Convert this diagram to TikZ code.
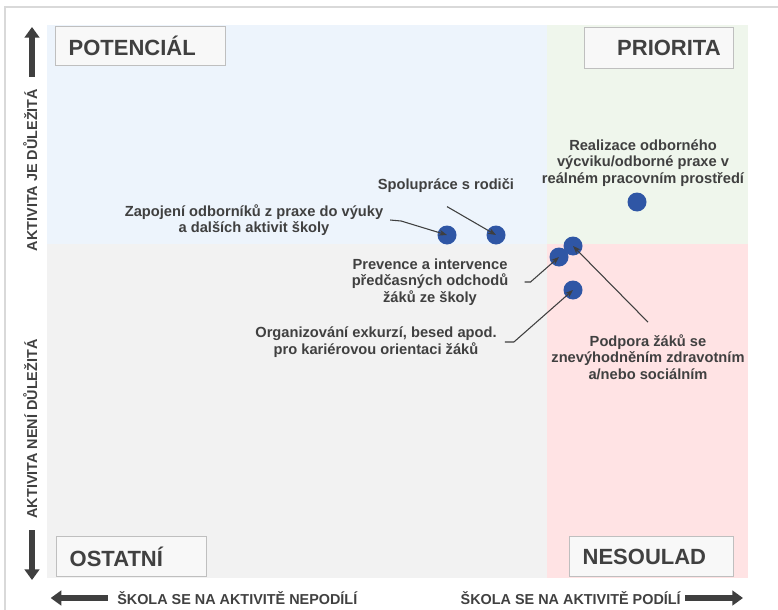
\documentclass[tikz,border=0pt]{standalone}
\usepackage{fontspec}
\setmainfont{Liberation Sans}
\usepackage{tikz}
\usetikzlibrary{arrows, arrows.meta, positioning}

\definecolor{txt}{HTML}{404040}
\definecolor{arrowgray}{HTML}{3F3F3F}
\definecolor{dotblue}{HTML}{2F56A5}
\definecolor{qblue}{HTML}{EDF4FC}
\definecolor{qgreen}{HTML}{EFF6EC}
\definecolor{qgray}{HTML}{F2F2F2}
\definecolor{qpink}{HTML}{FFE3E4}
\definecolor{boxline}{HTML}{BFBFBF}
\definecolor{boxfill}{HTML}{F8F8F8}
\definecolor{framegray}{HTML}{D9D9D9}

\tikzstyle{quadbox} = [rectangle, draw=boxline, fill=boxfill, line width=1pt, inner xsep=9.75pt, inner ysep=0pt, text=txt, font=\fontsize{16.5}{18}\selectfont\bfseries]
\tikzstyle{itemtext} = [align=center, inner sep=1pt, text=txt, font=\fontsize{11}{12.4}\selectfont\bfseries]
\tikzstyle{axistext} = [inner sep=0pt, text=txt, font=\fontsize{10.8}{12}\selectfont\bfseries]
\tikzstyle{bubble} = [circle, fill=dotblue, minimum size=14.25pt, inner sep=0pt]
\tikzstyle{pointer} = [draw=arrowgray, line width=0.8pt, ->, >={Stealth[length=6pt, width=4.5pt]}]
\tikzstyle{bigarrow} = [draw=arrowgray, line width=5pt, -{Triangle[width=11pt, length=8pt]}]

\begin{document}
\begin{tikzpicture}[x=0.75pt, y=-0.75pt]
\useasboundingbox (0,0) rectangle (778,610);
\clip (0,0) rectangle (778,610);
\draw [framegray, line width=1.2pt] (5,620) -- (5,7) -- (790,7);

% quadrants
\fill [qblue] (47,25) rectangle (547,244);
\fill [qgreen] (547,25) rectangle (748,244);
\fill [qgray] (47,244) rectangle (547,578);
\fill [qpink] (547,244) rectangle (748,578);

\node (pot) [quadbox, anchor=north west, text width=108pt, minimum height=29.25pt, align=left] at (55,26) {POTENCIÁL};
\node (pri) [quadbox, anchor=north west, text width=92.25pt, minimum height=30.75pt, align=right] at (584,27) {PRIORITA};
\node (ost) [quadbox, anchor=north west, text width=93pt, minimum height=30pt, align=left] at (56,536) {OSTATNÍ};
\node (nes) [quadbox, anchor=north west, text width=103.5pt, minimum height=30pt, align=left] at (569,536) {NESOULAD};

% axes
\node (yUp) [axistext, rotate=90, anchor=base] at (37,170) {AKTIVITA JE DŮLEŽITÁ};
\node (yDown) [axistext, rotate=90, anchor=base] at (37,429) {AKTIVITA NENÍ DŮLEŽITÁ};
\node (xNo) [axistext, anchor=west] at (117,598) {ŠKOLA SE NA AKTIVITĚ NEPODÍLÍ};
\node (xYes) [axistext, anchor=east] at (681,598) {ŠKOLA SE NA AKTIVITĚ PODÍLÍ};
\coordinate (upTail) at (32,77);
\coordinate (upTip) at (32,27);
\coordinate (downTail) at (32,530);
\coordinate (downTip) at (32,580);
\draw [bigarrow] (upTail) -- (upTip);
\draw [bigarrow] (downTail) -- (downTip);
\draw [bigarrow] ([xshift=-7pt]xNo.west) -- ++(-57,0);
\draw [bigarrow] ([xshift=3pt]xYes.east) -- ++(58,0);

% activities
\node (dReal) [bubble] at (637,202) {};
\node (dZap) [bubble] at (447,235) {};
\node (dSpol) [bubble] at (496,235) {};
\node (dPrev) [bubble] at (559,257) {};
\node (dPodp) [bubble] at (573,246) {};
\node (dOrg) [bubble] at (573,290) {};

\node (lReal) [itemtext] at (643,163) {Realizace odborného\\výcviku/odborné praxe v\\reálném pracovním prostředí};
\node (lSpol) [itemtext] at (446,186) {Spolupráce s rodiči};
\node (lZap) [itemtext] at (254,220) {Zapojení odborníků z praxe do výuky\\a dalších aktivit školy};
\node (lPrev) [itemtext] at (430,282) {Prevence a intervence\\předčasných odchodů\\žáků ze školy};
\node (lOrg) [itemtext] at (376,342) {Organizování exkurzí, besed apod.\\pro kariérovou orientaci žáků};
\node (lPodp) [itemtext] at (648,357) {Podpora žáků se\\znevýhodněním zdravotním\\a/nebo sociálním};

\draw [pointer] ([xshift=4pt]lZap.east) -- ++(11,1) -- (dZap.center);
\draw [pointer] ([shift={(1,12)}]lSpol.south) -- (dSpol.center);
\draw [pointer] ([xshift=11pt]lPrev.east) -- ++(6,0) -- (dPrev.center);
\draw [pointer] ([xshift=5pt]lOrg.east) -- ++(9,0) -- (dOrg.center);
\draw [pointer] ([yshift=8pt]lPodp.north) -- (dPodp.center);
\end{tikzpicture}
\end{document}
